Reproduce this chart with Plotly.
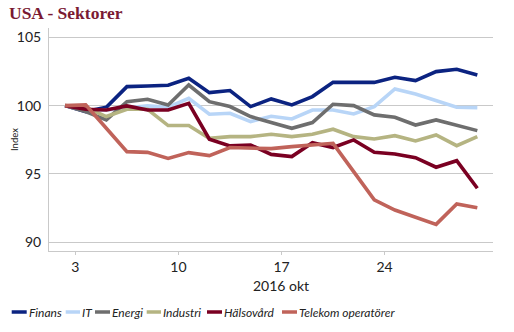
import plotly.graph_objects as go

days = ["30 sep", "3", "4", "5", "6", "7", "10", "11", "12", "13", "14",
        "17", "18", "19", "20", "21", "24", "25", "26", "27", "28"]

finans = [100.0, 99.56, 99.88, 101.39, 101.44, 101.49, 102.0, 100.95, 101.1, 99.93, 100.49,
          100.05, 100.66, 101.71, 101.7, 101.7, 102.07, 101.83, 102.49, 102.66, 102.24]
it = [100.0, 99.63, 99.68, 99.8, 99.98, 99.88, 100.54, 99.37, 99.44, 98.83, 99.22,
      99.02, 99.68, 99.68, 99.39, 99.93, 101.22, 100.85, 100.37, 99.88, 99.85]
energi = [100.0, 99.56, 98.95, 100.29, 100.46, 100.05, 101.51, 100.29, 99.93, 99.2, 98.76,
          98.34, 98.76, 100.1, 100.0, 99.32, 99.15, 98.58, 98.95, 98.58, 98.17]
industri = [100.0, 99.88, 99.2, 99.73, 99.73, 98.54, 98.54, 97.6, 97.73, 97.73, 97.9,
            97.73, 97.9, 98.27, 97.73, 97.56, 97.8, 97.41, 97.85, 97.07, 97.73]
halsovard = [100.0, 99.73, 99.68, 99.98, 99.68, 99.68, 100.17, 97.54, 97.05, 97.12, 96.43,
             96.27, 97.29, 96.93, 97.49, 96.58, 96.46, 96.19, 95.49, 95.97, 93.95]
telekom = [100.0, 100.05, 98.34, 96.63, 96.58, 96.14, 96.56, 96.34, 96.93, 96.88, 96.85,
           97.0, 97.12, 97.24, 95.17, 93.1, 92.36, 91.83, 91.31, 92.8, 92.53]

series_names = ["Finans", "IT", "Energi", "Industri", "Hälsovård", "Telekom operatörer"]
series_values = [finans, it, energi, industri, halsovard, telekom]
colors = ["#0B2381", "#B8D5F7", "#6E6E6E", "#B5B482", "#7A0022", "#C0635A"]

tick_pos = [0.5, 5.5, 10.5, 15.5]
tick_labels = ["3", "10", "17", "24"]
y_ticks = [90, 95, 100, 105]

W, H = 514, 332
L, R, T, B = 49, 21, 28, 81
PW, PH = W - L - R, H - T - B

x_idx = list(range(len(days)))

fig = go.Figure()
for name, vals, c in zip(series_names, series_values, colors):
    fig.add_trace(go.Scatter(x=x_idx, y=vals, mode="lines", name=name,
                             line=dict(color=c, width=3.6), showlegend=False,
                             customdata=days))

grid = "#C9C9C9"
fig.update_layout(
    width=W, height=H,
    margin=dict(l=L, r=R, t=T, b=B),
    paper_bgcolor="white", plot_bgcolor="white",
    xaxis=dict(range=[-0.78, 20.76], tickmode="array", tickvals=tick_pos, ticktext=tick_labels,
               showgrid=False, zeroline=False, showline=True, linecolor=grid, linewidth=1,
               ticks="outside", ticklen=3, tickcolor=grid,
               tickfont=dict(family="Lato, sans-serif", size=14, color="#222")),
    yaxis=dict(range=[89.36, 105.68], tickmode="array", tickvals=y_ticks,
               showgrid=True, gridcolor=grid, gridwidth=1, zeroline=False,
               showline=True, linecolor=grid, linewidth=1, ticks="", ticklabelstandoff=4,
               tickfont=dict(family="Lato, sans-serif", size=14, color="#222")),
    font=dict(family="Lato, sans-serif"),
)

def px(xp):
    return (xp - L) / PW

def py(yp):
    return (H - B - yp) / PH

annos = [
    dict(text="<b>USA - Sektorer</b>", x=px(7), y=py(13), xref="paper", yref="paper",
         xanchor="left", yanchor="middle", showarrow=False,
         font=dict(family="Liberation Serif, serif", size=17.5, color="#7A1A33")),
    dict(text="2016 okt", x=px(281), y=py(285), xref="paper", yref="paper",
         xanchor="center", yanchor="middle", showarrow=False,
         font=dict(family="Lato, sans-serif", size=14, color="#222")),
    dict(text="Index", x=px(14), y=py(140), xref="paper", yref="paper", textangle=-90,
         xanchor="center", yanchor="middle", showarrow=False,
         font=dict(family="Lato, sans-serif", size=9.5, color="#222")),
]

# legend built manually (swatch + italic label)
legend_sw = [(11.7, 26.7), (65.7, 80), (95, 110), (146.7, 161), (207, 222), (282, 297)]
legend_y = 312
shapes = []
for (x0, x1), name, c in zip(legend_sw, series_names, colors):
    shapes.append(dict(type="line", xref="paper", yref="paper", x0=px(x0), x1=px(x1),
                       y0=py(legend_y), y1=py(legend_y), line=dict(color=c, width=3.5)))
    annos.append(dict(text="<i>" + name + "</i>", x=px(x1 + 0.8), y=py(legend_y),
                      xref="paper", yref="paper", xanchor="left", yanchor="middle",
                      showarrow=False, xshift=-1,
                      font=dict(family="Lato, sans-serif", size=12, color="#222")))

fig.update_layout(annotations=annos, shapes=shapes)
fig.write_html("out.html")
